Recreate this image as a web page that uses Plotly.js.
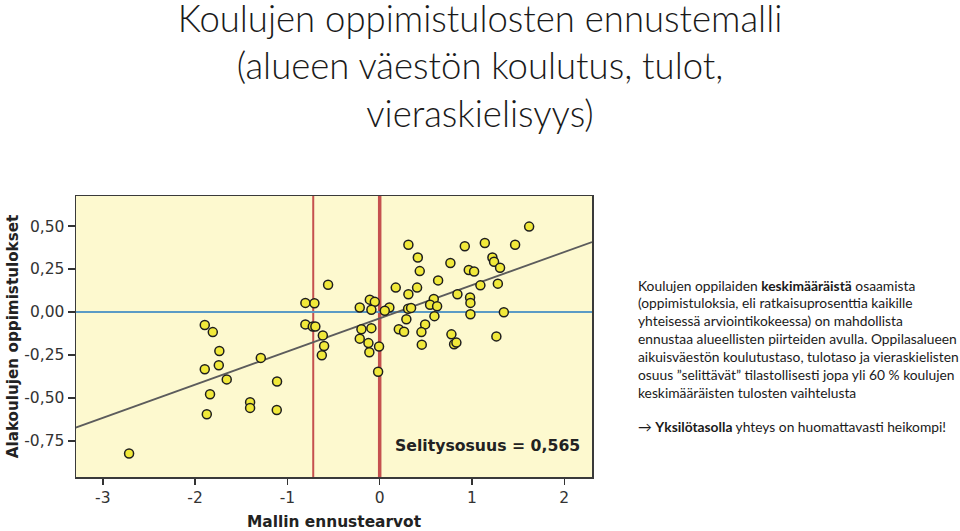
<!DOCTYPE html>
<html>
<head>
<meta charset="utf-8">
<script src="https://cdn.plot.ly/plotly-3.0.1.min.js"></script>
<style>html,body{margin:0;padding:0;background:#fff;}#chart{width:960px;height:531px;}</style>
</head>
<body>
<div id="chart"></div>
<script>
// Mallin ennustearvot (x) and Alakoulujen oppimistulokset (y)
const predicted = [
  -1.895, -1.808, -0.805, -0.707, -0.559, -0.805, -0.725, -0.697, -0.616, -0.602,
  -0.627, -1.737, -1.743, -1.895, -1.657, -1.288, -1.112, -1.838, -1.404, -1.404,
  -1.115, -1.873, -2.715,
  1.619, 0.311, 0.922, 1.139, 1.467, 0.413, 1.221, 1.239, 1.304, 0.766,
  0.434, 0.965, 1.023, 0.633, 1.091, 1.280, 0.174, 0.405, 0.311, 0.842,
  -0.107, -0.053, 0.586, 0.979, 0.983, 0.546, 0.622, -0.216, -0.090, 0.105,
  0.055, 0.308, 0.340, 0.983, 1.345, 0.593, 0.289, 0.492, -0.198, -0.090,
  0.207, 0.264, 0.452, 0.777, 1.264, -0.216, -0.122, -0.007, -0.112, 0.456,
  0.806, 0.831, -0.017
];
const observed = [
  -0.076, -0.117, 0.053, 0.051, 0.159, -0.072, -0.084, -0.084, -0.136, -0.198,
  -0.252, -0.227, -0.310, -0.333, -0.392, -0.267, -0.404, -0.479, -0.525, -0.558,
  -0.570, -0.595, -0.823,
  0.497, 0.391, 0.383, 0.402, 0.391, 0.317, 0.317, 0.292, 0.258, 0.285,
  0.238, 0.244, 0.236, 0.184, 0.155, 0.165, 0.142, 0.142, 0.103, 0.103,
  0.072, 0.059, 0.076, 0.084, 0.053, 0.042, 0.034, 0.026, 0.013, 0.026,
  0.007, 0.019, 0.024, -0.013, -0.001, -0.024, -0.042, -0.072, -0.100, -0.094,
  -0.100, -0.115, -0.117, -0.130, -0.142, -0.155, -0.181, -0.201, -0.234, -0.190,
  -0.188, -0.178, -0.348
];
// regression line end points
const fitX = [-3.30, 2.30];
const fitY = [-0.674, 0.407];
// vertical reference lines
const refLineX = [-0.72, 0];
const refLineWidth = [2, 3.5];
// tick labels
const xTickVals = [-3, -2, -1, 0, 1, 2];
const xTickText = ['-3', '-2', '-1', '0', '1', '2'];
const yTickVals = [0.5, 0.25, 0, -0.25, -0.5, -0.75];
const yTickText = ['0,50', '0,25', '0,00', '-0,25', '-0,50', '-0,75'];
const rSquaredLabel = 'Selitysosuus = 0,565';
const titleLines = ['Koulujen oppimistulosten ennustemalli', '(alueen väestön koulutus, tulot,', 'vieraskielisyys)'];
const noteLines = [
  'Koulujen oppilaiden <b>keskimääräistä</b> osaamista',
  '(oppimistuloksia, eli ratkaisuprosenttia kaikille',
  'yhteisessä arviointikokeessa) on mahdollista',
  'ennustaa alueellisten piirteiden avulla. Oppilasalueen',
  'aikuisväestön koulutustaso, tulotaso ja vieraskielisten',
  'osuus ”selittävät” tilastollisesti jopa yli 60 % koulujen',
  'keskimääräisten tulosten vaihtelusta',
  '',
  '→ <b>Yksilötasolla</b> yhteys on huomattavasti heikompi!'
];

const plotLeft = 76, plotRight = 592, plotTop = 196, plotBottom = 477;
const W = 960, H = 531;
const pw = plotRight - plotLeft, ph = plotBottom - plotTop;
const chartFont = 'DejaVu Sans, Verdana, sans-serif';

const traces = [
  {x: fitX, y: fitY, mode: 'lines', type: 'scatter', hoverinfo: 'skip',
   line: {color: '#5c5c5c', width: 1.8}},
  {x: predicted, y: observed, mode: 'markers', type: 'scatter',
   marker: {size: 9, color: '#F1E93A', line: {color: '#1e1e1e', width: 1.5}}}
];

const shapes = refLineX.map((v, i) => ({
  type: 'line', xref: 'x', yref: 'paper', x0: v, x1: v, y0: 0, y1: 1,
  layer: 'between', line: {color: '#C5514F', width: refLineWidth[i]}
}));

const noteX = (636 - plotLeft) / pw;
const noteY0 = 285, noteStep = 17.9;
const annotations = noteLines.map((t, i) => ({
  text: t, xref: 'paper', yref: 'paper', x: noteX,
  y: (plotBottom - (noteY0 + i * noteStep - (i === 8 ? 1.5 : 0))) / ph,
  xanchor: 'left', yanchor: 'middle', showarrow: false, align: 'left',
  font: {family: 'Lato, sans-serif', size: 13.8, color: '#1a1a1a'}
})).filter(a => a.text !== '');

annotations.push({
  text: '<b>' + rSquaredLabel + '</b>', xref: 'x', yref: 'y', x: 0.145, y: -0.778,
  xanchor: 'left', yanchor: 'middle', showarrow: false,
  font: {family: chartFont, size: 15.7, color: '#222'}
});

const layout = {
  width: W, height: H,
  paper_bgcolor: '#ffffff', plot_bgcolor: '#FDF9CF',
  margin: {l: plotLeft, r: W - plotRight, t: plotTop, b: H - plotBottom, pad: 0},
  showlegend: false,
  separators: ', ',
  title: {
    text: titleLines.join('<br>'), xref: 'paper', x: (480 - plotLeft) / pw, xanchor: 'center',
    yref: 'container', y: 1, yanchor: 'top', pad: {t: 32},
    font: {family: 'Lato, sans-serif', size: 36.5, weight: 300, color: '#1a1a1a'}
  },
  xaxis: {
    range: [-3.29, 2.30], tickvals: xTickVals, ticktext: xTickText,
    showgrid: false, zeroline: false, showline: true, mirror: true,
    linecolor: '#3a3a3a', linewidth: 1.5, ticks: 'outside', ticklen: 6, tickwidth: 1.5, tickcolor: '#333',
    tickfont: {family: chartFont, size: 15.5, color: '#333'},
    title: {text: '<b>Mallin ennustearvot</b>', standoff: 10,
      font: {family: chartFont, size: 15.4, color: '#222'}},
    automargin: false, fixedrange: true
  },
  yaxis: {
    range: [-0.96, 0.675], tickvals: yTickVals, ticktext: yTickText,
    showgrid: false, zeroline: true, zerolinecolor: '#5B9BC5', zerolinewidth: 2,
    showline: true, mirror: true,
    linecolor: '#3a3a3a', linewidth: 1.5, ticks: 'outside', ticklen: 7, tickwidth: 1.5, tickcolor: '#333',
    tickfont: {family: chartFont, size: 15.5, color: '#333'},
    title: {text: '<b>Alakoulujen oppimistulokset</b>', standoff: 2,
      font: {family: chartFont, size: 15.2, color: '#222'}},
    automargin: false, fixedrange: true
  },
  shapes: shapes,
  annotations: annotations
};

Plotly.newPlot('chart', traces, layout, {displayModeBar: false, staticPlot: true});
</script>
</body>
</html>
